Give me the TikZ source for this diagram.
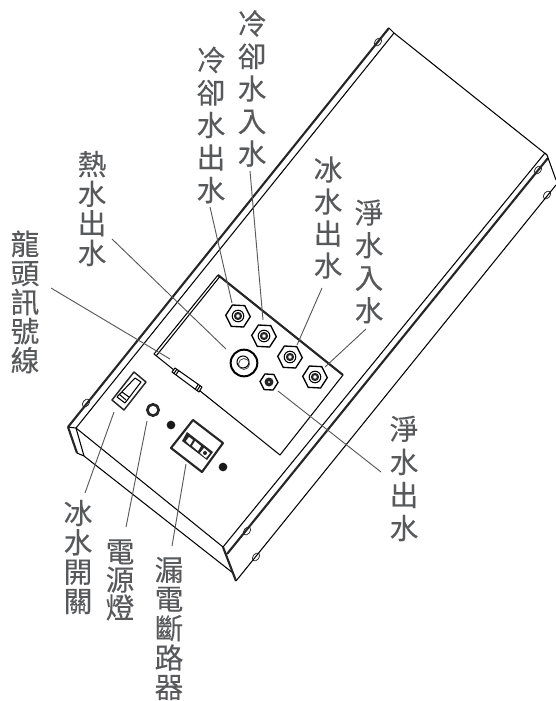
\documentclass[tikz,border=0pt]{standalone}
\usepackage{fontspec}
\newfontfamily\cjk[FakeBold=0.25]{Noto Sans CJK TC}
\usetikzlibrary{shapes.geometric,calc}
\definecolor{labelgray}{HTML}{58595B}
\tikzset{
  thinl/.style={draw=black,line width=0.78pt,line join=round},
  thickl/.style={draw=black!85,line width=1.6pt,line join=round},
  leader/.style={draw=labelgray,line width=0.7pt},
  vlabel/.style={text=labelgray,align=center,inner sep=0pt,font=\cjk\fontsize{21.5}{#1}\selectfont},
  hexnut/.style={regular polygon,regular polygon sides=6,regular polygon rotate=-3,draw=black,line width=1pt,inner sep=0pt,minimum size=#1},
  screw/.style={draw=black!80,line width=0.6pt,fill=white},
  blackdot/.style={circle,fill=black!90,inner sep=0pt,minimum size=6.5pt}
}
\begin{document}
\begin{tikzpicture}[x=0.75pt,y=-0.75pt]
\useasboundingbox (0,0) rectangle (556,701);
% screws
\foreach \sx/\sy in {86/403,378/42,538/170,247/531,256/557,547/195}{
  \draw[screw] (\sx,\sy) circle[x radius=4.5,y radius=3,rotate=51];
}
% body
\draw[thickl] (68,427) -- (389,28);
\draw[thinl] (76,428) -- (394,33);
\draw[thinl] (389,28) -- (394,33) -- (547,155);
\draw[thinl] (68,427) -- (76,428);
\draw[thickl] (68,427) -- (77,453);
\draw[thinl] (77,453) -- (84,456) -- (76,428);
\draw[thinl] (76,428) -- (223,547);
\draw[thinl] (84,456) -- (233,573);
\draw[thickl] (223,547) -- (236,581);
\draw[thinl] (236,581) -- (556,185);
\draw[thinl] (223,547) -- (545,153);
\draw[thickl] (227,554) -- (548,158);
\draw[thinl] (545,153) -- (547,155) -- (556,180);
% panel cut-out
\draw[thickl] (218,275) -- (343,375);
\draw[thinl] (343,375) -- (280,455) -- (154,354) -- (218,275);
\draw[thinl] (156.5,355.5) -- (219.5,277);
% connector bar
\draw[thinl,fill=white] (175,368) -- (172,372) -- (199,392) -- (202,387) -- cycle;
\foreach \t in {0.07,0.14,0.86,0.93}{
  \draw[thinl] ($(175,368)!\t!(202,387)$) -- ($(172,372)!\t!(199,392)$);
}
% nuts
\node[hexnut=18.5pt] (nutA) at (238,316) {};
\node[hexnut=18.5pt] (nutB) at (264,336) {};
\node[hexnut=18.5pt] (nutC) at (290,357) {};
\node[hexnut=18.5pt] (nutD) at (315,377) {};
\node[hexnut=13.5pt] (nutE) at (269,382) {};
\foreach \n in {nutA,nutB,nutC,nutD}{
  \draw[thinl] (\n) circle[radius=5.8];
  \draw[thickl] (\n) circle[radius=3];
}
\fill[black!85] (nutE) circle[radius=4.5];
\fill[white] (nutE) circle[radius=1];
% hot water outlet
\node[circle,draw=black,line width=1.5pt,minimum size=20pt,inner sep=0pt] (hot) at (244,363) {};
\draw[thinl] (243,362) circle[radius=6];
\draw[draw=black!70,line width=0.6pt] (244,364) circle[radius=5.5];
% switch
\node[inner sep=0pt] (sw) at (129,391) {};
\draw[thickl,line width=1.1pt] (134,372) -- (146,382) -- (124,410) -- (112,400) -- cycle;
\draw[thinl] (135,378) -- (141,382) -- (125,403) -- (117,397) -- cycle;
\draw[thinl] (122,392) -- (129,397);
\draw[thinl] (119,394) -- (126,400);
% lamp
\node[circle,draw=black!85,line width=2pt,minimum size=8.5pt,inner sep=0pt] (lamp) at (153,410) {};
\node[blackdot] (dotA) at (171,425) {};
\node[blackdot] (dotB) at (223,467) {};
% breaker
\draw[thickl] (193,420) -- (223,443) -- (202,472) -- (171,448) -- cycle;
\fill[black!85] (187,432) -- (213,452) -- (207,460) -- (182,441) -- cycle;
\fill[white] (189,437) -- (193,440) -- (190,445) -- (186,441) -- cycle;
\fill[white] (195,441) -- (201,446) -- (198,451) -- (192,446) -- cycle;
\fill[white] (204,448) -- (210,453) -- (206,458) -- (200,453) -- cycle;
\fill[black!85] (205,453) circle[radius=2];
% labels
\node[vlabel=24.4pt] (L1) at (252,88.5) {冷\\卻\\水\\入\\水};
\node[vlabel=24.4pt] (L2) at (211,125) {冷\\卻\\水\\出\\水};
\node[vlabel=22.2pt] (L3) at (92,208.5) {熱\\水\\出\\水};
\node[vlabel=24pt] (L4) at (328,217.5) {冰\\水\\出\\水};
\node[vlabel=24.4pt] (L5) at (369,261.5) {淨\\水\\入\\水};
\node[vlabel=21.8pt] (L6) at (25,302) {龍\\頭\\訊\\號\\線};
\node[vlabel=24.8pt] (L7) at (404,478.5) {淨\\水\\出\\水};
\node[vlabel=22pt] (L8) at (78,557) {冰\\水\\開\\關};
\node[vlabel=21pt] (L9) at (120,580) {電\\源\\燈};
\node[vlabel=22pt] (L10) at (169,628.5) {漏\\電\\斷\\路\\器};
% leader ends
\coordinate (a1) at (250,171); \coordinate (b1) at (263,320);
\coordinate (a2) at (210,207); \coordinate (b2) at (232,303);
\coordinate (a3) at (112,239); \coordinate (b3) at (226,349);
\coordinate (a4) at (322,288); \coordinate (b4) at (297,345);
\coordinate (a5) at (366,329); \coordinate (b5) at (325,367);
\coordinate (a6) at (51,288);  \coordinate (b6) at (170,359);
\coordinate (a7) at (381,472); \coordinate (b7) at (278,391);
\coordinate (a8) at (85,493);  \coordinate (b8) at (114,412);
\coordinate (a9) at (126,527); \coordinate (b9) at (147,421);
\coordinate (a10) at (172,546); \coordinate (b10) at (186,464);
\foreach \i in {1,...,10}{\draw[leader] (a\i) -- (b\i);}
\end{tikzpicture}
\end{document}
